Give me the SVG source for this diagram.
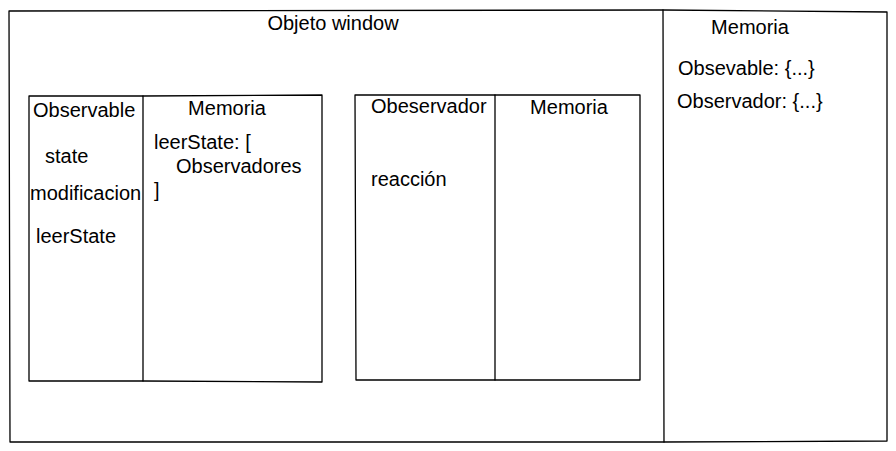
<svg xmlns="http://www.w3.org/2000/svg" width="896" height="451" viewBox="0 0 896 451">
<style>
.ln{fill:none;stroke:#000;stroke-width:1.3;stroke-linecap:round;stroke-linejoin:round}
.t{font-family:"Liberation Sans",Arial,sans-serif;font-size:20px;fill:#000}
.m{text-anchor:middle}
</style>
<rect width="896" height="451" fill="#fff"/>
<g id="window">
<path class="ln" d="M9 11 L663 10 L887 12 L887 441 L663 442 L10 442 Z"/>
<path class="ln" d="M663 10 L664 442"/>
<text class="t m" x="333" y="30">Objeto window</text>
</g>
<g id="memoria-global">
<text class="t m" x="750" y="34">Memoria</text>
<text class="t" x="678" y="75">Obsevable: {...}</text>
<text class="t" x="677" y="108">Observador: {...}</text>
</g>
<g id="observable">
<path class="ln" d="M29 96 L143 96 L143 381 L29 381 Z"/>
<text class="t" x="33" y="117">Observable</text>
<text class="t" x="45" y="163">state</text>
<text class="t" x="30" y="200">modificacion</text>
<text class="t" x="36" y="243">leerState</text>
</g>
<g id="observable-memoria">
<path class="ln" d="M143 96 L322 95 L322 382 L143 381"/>
<text class="t m" x="227" y="115">Memoria</text>
<text class="t" x="154" y="149">leerState: [</text>
<text class="t" x="176" y="173">Observadores</text>
<text class="t" x="154" y="197">]</text>
</g>
<g id="observador">
<path class="ln" d="M355 95 L495 95 L495 380 L356 380 Z"/>
<text class="t" x="371" y="113">Obeservador</text>
<text class="t" x="371" y="186">reacción</text>
</g>
<g id="observador-memoria">
<path class="ln" d="M495 95 L640 95 L640 380 L495 380"/>
<text class="t m" x="569" y="114">Memoria</text>
</g>
<g id="connectors"/>
</svg>
